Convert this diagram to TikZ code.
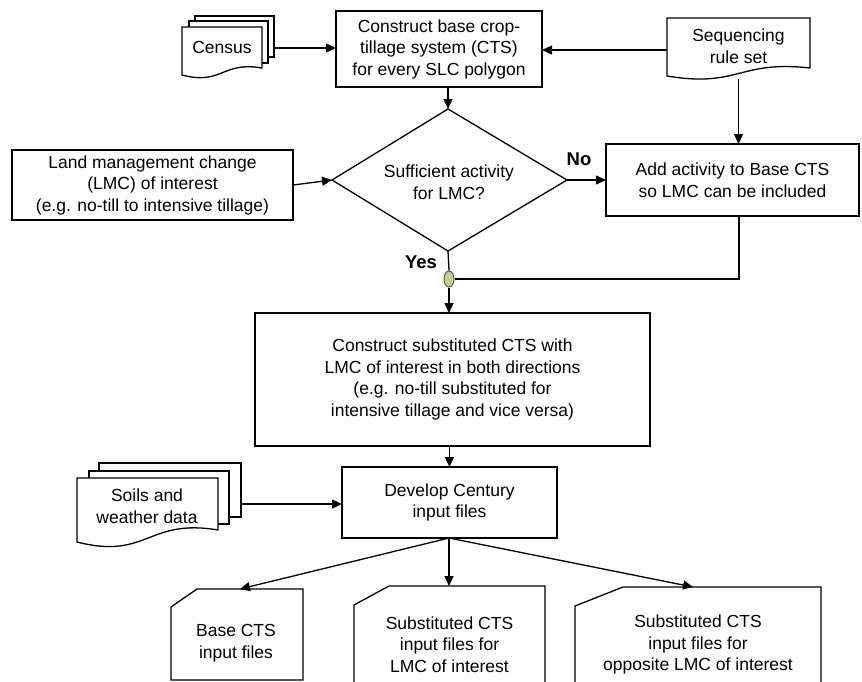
\documentclass[tikz,border=0pt]{standalone}
\usepackage{fontspec}
\setmainfont{Liberation Sans}
\usetikzlibrary{arrows.meta,shapes.geometric}
\definecolor{junccol}{RGB}{204,204,153}
\definecolor{juncline}{RGB}{90,90,60}
\newcommand{\docpath}[5]{%
  \draw[shapeline] (#1,#2) -- (#3,#2) -- (#3,{#4-#5})
    .. controls ({(#1+#3)/2},{#4-2*#5}) and ({(#1+#3)/2},{#4+1.5*#5}) .. (#1,#4) -- cycle;}
\newcommand{\cutdoc}[6]{%
  \draw[shapeline] ({#1+#5},#2) -- (#3,#2) -- (#3,#4) -- (#1,#4) -- (#1,{#2+#6}) -- cycle;}
\tikzset{
  shapeline/.style={line width=1.3pt, fill=white},
  box/.style={draw, line width=1.3pt, fill=white, inner sep=0pt, outer sep=0pt, align=center},
  txt/.style={inner sep=0pt, align=center},
  conn/.style={line width=1.3pt},
  arr/.style={line width=1.3pt, -{Triangle[length=10pt,width=9pt]}},
  lbl/.style={inner sep=0pt, font=\fontsize{18.5}{22}\selectfont\bfseries}
}
\begin{document}
\begin{tikzpicture}[x=1pt,y=-1pt, font=\fontsize{17.5}{21.5}\selectfont]
\useasboundingbox (0,0) rectangle (862,681);

% Census multi-document
\draw[shapeline] (195,16) rectangle (274,57);
\draw[shapeline] (189,21) rectangle (268,63);
\docpath{182}{27}{262}{75}{7}
\node[txt] (census) at (222,47) {Census};
\coordinate (censusR) at (274,48);

% Sequencing rule set
\docpath{667}{18}{810}{76}{8}
\node[txt] (seq) at (738.5,46) {Sequencing\\rule set};
\coordinate (seqL) at (667,50);
\coordinate (seqB) at (738.5,79);

% Top box
\node[box, minimum width=206pt, minimum height=76pt] (cts) at (439,49)
  {Construct base crop-\\tillage system (CTS)\\for every SLC polygon};

% Diamond
\coordinate (dt) at (448,109);
\coordinate (dl) at (332,180);
\coordinate (dr) at (567,180);
\coordinate (db) at (448,251);
\draw[shapeline] (dt) -- (dr) -- (db) -- (dl) -- cycle;
\node[txt] (dia) at (449,182) {Sufficient activity\\for LMC?};

% LMC box
\node[box, minimum width=281pt, minimum height=70pt] (lmc) at (152.5,185)
  {Land management change\\(LMC) of interest\\(e.g. no-till to intensive tillage)};

% Add box
\node[box, minimum width=253pt, minimum height=72pt] (add) at (732.5,180)
  {Add activity to Base CTS\\so LMC can be included};
\coordinate (addB) at (739,216);

\node[lbl] (no) at (579,159) {No};
\node[lbl] (yes) at (421,262) {Yes};

% Junction
\node[ellipse, draw=juncline, line width=1pt, fill=junccol, minimum width=10pt,
      minimum height=16pt, inner sep=0pt] (junc) at (449,279) {};

% Substituted box
\node[box, minimum width=395pt, minimum height=133pt] (sub) at (452.5,379.5)
  {Construct substituted CTS with\\LMC of interest in both directions\\(e.g. no-till substituted for\\intensive tillage and vice versa)};

% Develop box
\node[box, minimum width=215pt, minimum height=71pt] (dev) at (449.5,502.5)
  {Develop Century\\input files};

% Soils multi-document
\draw[shapeline] (99,463) rectangle (241,517);
\draw[shapeline] (89,471) rectangle (229,524);
\docpath{77}{478}{218}{542}{12}
\node[txt] (soils) at (147,506) {Soils and\\weather data};
\coordinate (soilsR) at (241,504);

% Output documents
\cutdoc{171}{589}{303}{680}{26}{18}
\node[txt] (base) at (236,643) {Base CTS\\input files};
\coordinate (baseT) at (240,589);
\cutdoc{354}{586}{545}{684}{35}{19}
\node[txt] (subl) at (449.5,644.5) {Substituted CTS\\input files for\\LMC of interest};
\coordinate (sublT) at (449,586);
\cutdoc{575}{587}{821}{684}{48}{19}
\node[txt] (subo) at (698,644.5) {Substituted CTS\\input files for\\opposite LMC of interest};
\coordinate (suboT) at (693,587);

% Connectors
\draw[arr] (censusR) -- (censusR -| cts.west);
\draw[arr] (seqL) -- (seqL -| cts.east);
\draw[arr] (dt |- cts.south) -- (dt);
\draw[arr] (seqB) -- (seqB |- add.north);
\draw[arr] (lmc.east) -- (dl);
\draw[arr] (dr) -- (add.west);
\draw[conn] (db) -- (junc.north);
\draw[conn] (addB) |- (junc.east);
\draw[arr] (junc.south) -- (junc.south |- sub.north);
\draw[arr] (dev.north |- sub.south) -- (dev.north);
\draw[arr] (soilsR) -- (soilsR -| dev.west);
\coordinate (devB) at (449,538);
\draw[arr] (devB) -- (baseT);
\draw[arr] (devB) -- (sublT);
\draw[arr] (devB) -- (suboT);
\end{tikzpicture}
\end{document}
